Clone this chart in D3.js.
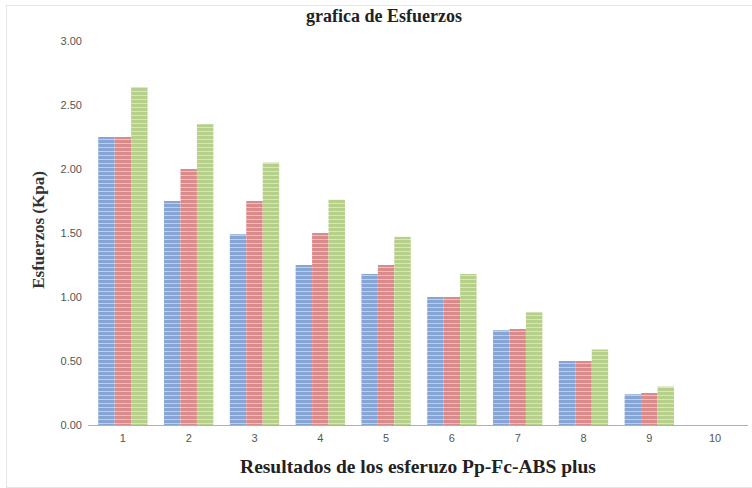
<!DOCTYPE html>
<html>
<head>
<meta charset="utf-8">
<script src="https://cdn.jsdelivr.net/npm/d3@7/dist/d3.min.js"></script>
<style>
  html, body { margin: 0; padding: 0; background: #fff; }
  svg { display: block; }
</style>
</head>
<body>
<svg id="chart" width="752" height="488"></svg>
<script>
// Stress results (Kpa) for each test, three series
const categories = ["1", "2", "3", "4", "5", "6", "7", "8", "9", "10"];
const seriesA = [2.25, 1.75, 1.49, 1.25, 1.18, 1.00, 0.74, 0.50, 0.24, 0];
const seriesB = [2.25, 2.00, 1.75, 1.50, 1.25, 1.00, 0.75, 0.50, 0.25, 0];
const seriesC = [2.64, 2.35, 2.05, 1.76, 1.47, 1.18, 0.88, 0.59, 0.30, 0];
const yTicks = [0, 0.5, 1.0, 1.5, 2.0, 2.5, 3.0];
const seriesNames = ["A", "B", "C"];
const colors = ["#86a5d4", "#d98b8c", "#b6d08c"];

const svg = d3.select("#chart");
const W = 752, H = 488;
const margin = { left: 90, right: 4, top: 41, bottom: 63 };

// outer frame
svg.append("rect")
  .attr("x", 6.5).attr("y", 5.5)
  .attr("width", W - 6).attr("height", H - 6)
  .attr("fill", "#fff").attr("stroke", "#e6e6e6").attr("stroke-width", 1);

const x = d3.scaleBand()
  .domain(categories)
  .range([margin.left, W - margin.right])
  .paddingInner(0.25)
  .paddingOuter(0.125);

const xSub = d3.scaleBand()
  .domain(seriesNames)
  .range([0, x.bandwidth()]);

const y = d3.scaleLinear()
  .domain([0, 3])
  .range([H - margin.bottom, margin.top]);

// striped fills
const defs = svg.append("defs");
colors.forEach((c, i) => {
  const p = defs.append("pattern")
    .attr("id", "stripe" + i)
    .attr("patternUnits", "userSpaceOnUse")
    .attr("width", 8).attr("height", 4);
  p.append("rect").attr("width", 8).attr("height", 4).attr("fill", c);
  p.append("rect").attr("y", 3).attr("width", 8).attr("height", 1)
    .attr("fill", "#ffffff").attr("opacity", 0.45);
});

const rows = categories.map((cat, i) => ({
  cat,
  vals: [seriesA[i], seriesB[i], seriesC[i]]
}));

const groups = svg.append("g").selectAll("g")
  .data(rows)
  .join("g")
  .attr("transform", d => `translate(${x(d.cat)},0)`);

groups.selectAll("rect")
  .data(d => d.vals.map((v, k) => ({ v, k })))
  .join("rect")
  .attr("x", d => xSub(seriesNames[d.k]))
  .attr("width", xSub.bandwidth())
  .attr("y", d => y(d.v))
  .attr("height", d => y(0) - y(d.v))
  .attr("fill", d => `url(#stripe${d.k})`);

// x axis
const xAxis = svg.append("g")
  .attr("transform", `translate(0,${y(0)})`)
  .call(d3.axisBottom(x).tickSize(0).tickPadding(9));
xAxis.select(".domain").attr("stroke", "#b0b0b0").attr("stroke-width", 1.2)
  .attr("d", `M${margin.left - 2},0.5H${W - 4}`);
xAxis.selectAll("text")
  .attr("font-family", "'Liberation Sans', Arial, sans-serif")
  .attr("font-size", 11).attr("fill", "#555");

// y axis labels only
const yAxis = svg.append("g")
  .attr("transform", `translate(${margin.left - 8},0)`)
  .call(d3.axisLeft(y).tickValues(yTicks).tickFormat(d3.format(".2f")).tickSize(0).tickPadding(0));
yAxis.select(".domain").remove();
yAxis.selectAll("text")
  .attr("font-family", "'Liberation Sans', Arial, sans-serif")
  .attr("font-size", 11).attr("fill", "#555");

// titles
svg.append("text")
  .attr("x", 384).attr("y", 22)
  .attr("text-anchor", "middle")
  .attr("font-family", "'Liberation Serif', 'Times New Roman', serif")
  .attr("font-weight", "bold").attr("font-size", 18).attr("fill", "#222")
  .text("grafica de Esfuerzos");

svg.append("text")
  .attr("transform", `translate(44,230) rotate(-90)`)
  .attr("text-anchor", "middle")
  .attr("font-family", "'Liberation Serif', 'Times New Roman', serif")
  .attr("font-weight", "bold").attr("font-size", 17).attr("fill", "#333")
  .text("Esfuerzos (Kpa)");

svg.append("text")
  .attr("x", 418).attr("y", 473)
  .attr("text-anchor", "middle")
  .attr("font-family", "'Liberation Serif', 'Times New Roman', serif")
  .attr("font-weight", "bold").attr("font-size", 19.5).attr("fill", "#222")
  .text("Resultados de los esferuzo Pp-Fc-ABS plus");
</script>
</body>
</html>
